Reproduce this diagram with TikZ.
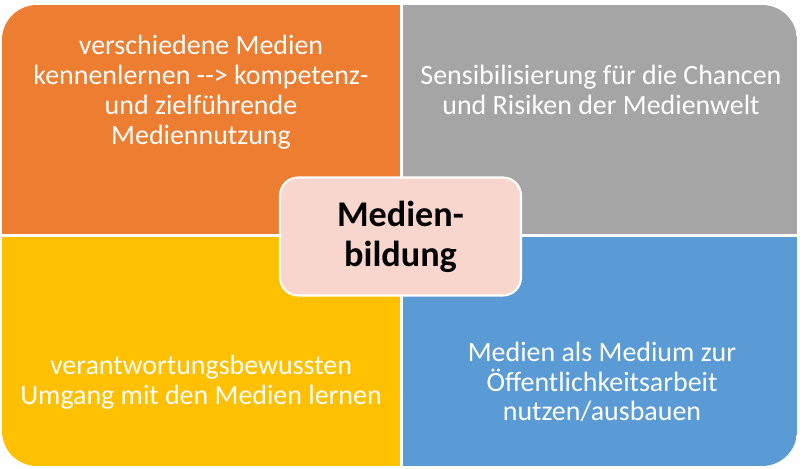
\documentclass[tikz,border=0pt]{standalone}
\usepackage{fontspec}
\setmainfont{Carlito}
\usepackage{tikz}
\usetikzlibrary{positioning}
\definecolor{qorange}{HTML}{ED7D31}
\definecolor{qgray}{HTML}{A5A5A5}
\definecolor{qyellow}{HTML}{FFC000}
\definecolor{qblue}{HTML}{5B9BD5}
\definecolor{qpink}{HTML}{F8D6CD}
\tikzset{
	quadtext/.style={text=white, align=center, font=\fontsize{15.9}{17}\selectfont},
	centerbox/.style={fill=qpink, draw=white, line width=1.2pt, rounded corners=0.36cm,
		minimum width=4.82cm, minimum height=2.36cm, align=center,
		font=\bfseries\fontsize{20.6}{22.7}\selectfont}
}
\begin{document}
\begin{tikzpicture}[x=0.02cm,y=0.02cm]
		%\draw [help lines] (0,0) grid (800,469);
		\useasboundingbox (0,0) rectangle (800,469);
		\begin{scope}
			\clip [rounded corners=0.7cm] (2,3) rectangle (797,464);
			\fill [qorange] (2,235) rectangle (400,464);
			\fill [qgray] (403,235) rectangle (797,464);
			\fill [qyellow] (2,3) rectangle (400,232);
			\fill [qblue] (403,3) rectangle (797,232);
		\end{scope}
		\node [quadtext] (kennen) at (201,377) {verschiedene Medien\\kennenlernen {-}{-}> kompetenz-\\und zielführende\\Mediennutzung};
		\node [quadtext] (sensi) at (601,379) {Sensibilisierung für die Chancen\\und Risiken der Medienwelt};
		\node [quadtext] (umgang) at (201,87) {verantwortungsbewussten\\Umgang mit den Medien lernen};
		\node [quadtext] (oeffentl) at (602,87) {Medien als Medium zur\\Öffentlichkeitsarbeit\\nutzen/ausbauen};
		\node [centerbox] (bildung) at (400.5,232.5) {Medien-\\bildung};
	\end{tikzpicture}
\end{document}
